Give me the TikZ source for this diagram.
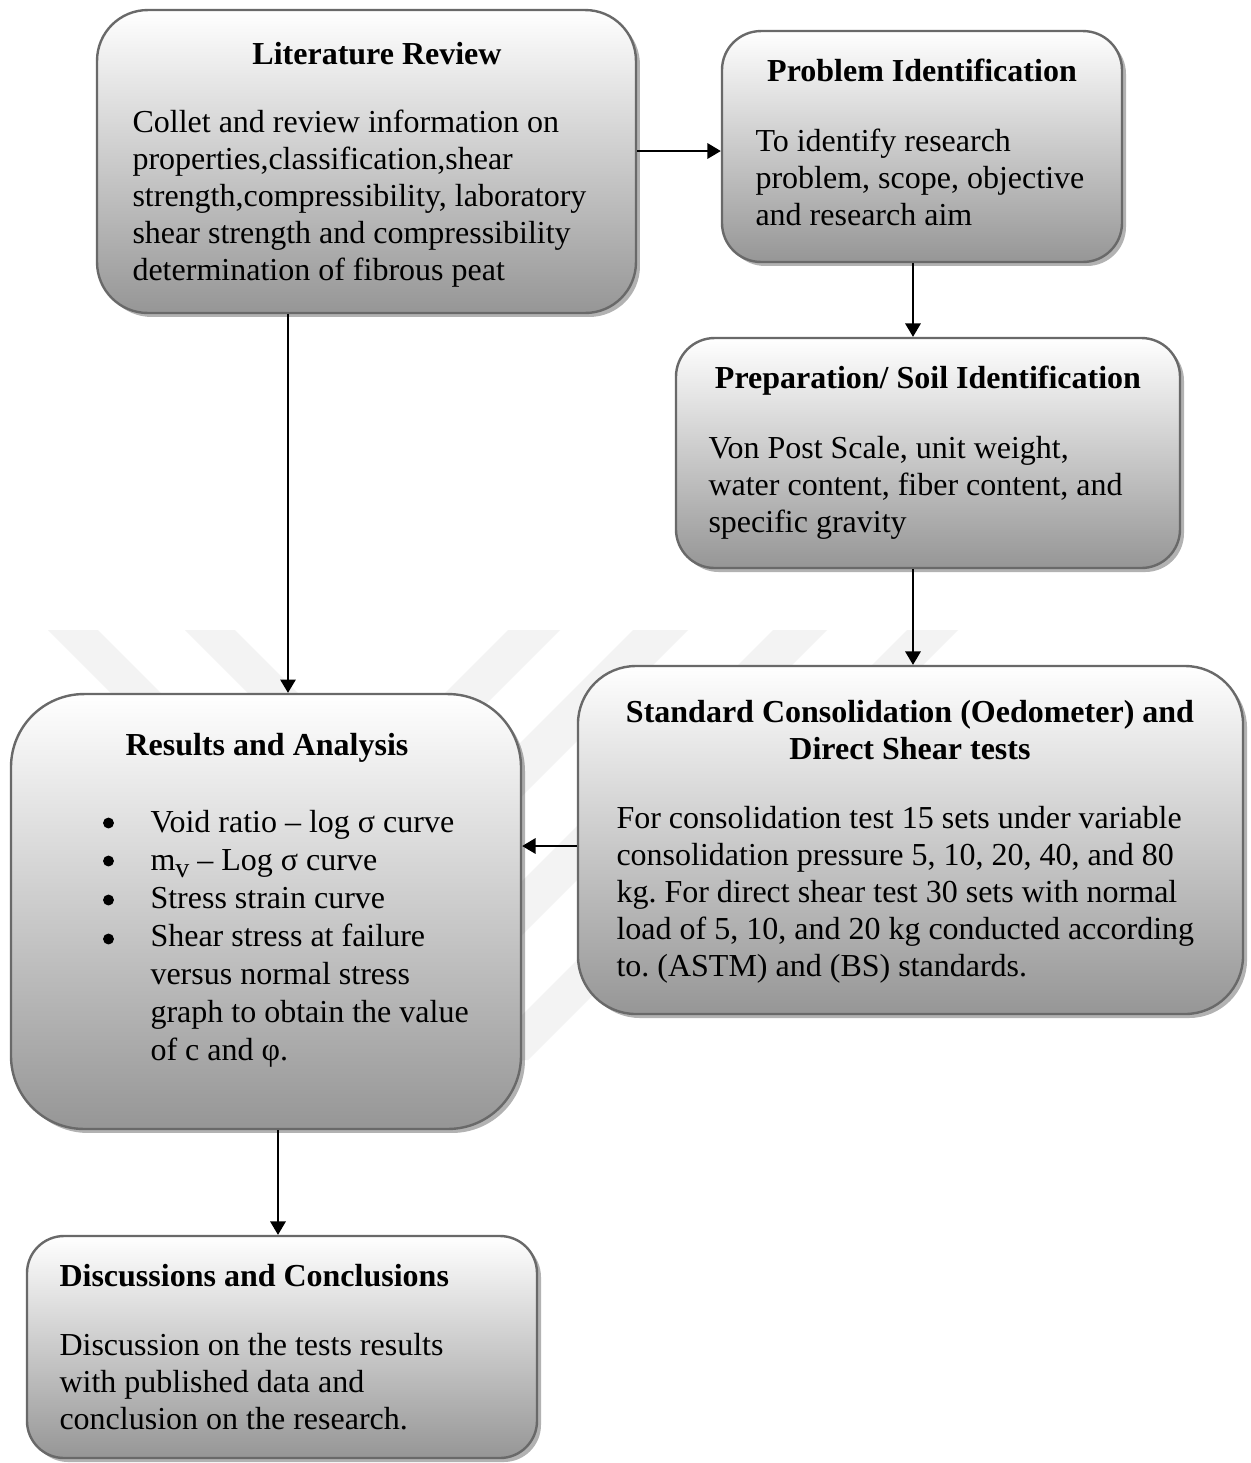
\documentclass[tikz,border=0pt]{standalone}
\usepackage{fontspec}
\setmainfont{Liberation Serif}
\usetikzlibrary{arrows.meta,shadows,calc}
\definecolor{boxbot}{RGB}{150,150,150}
\definecolor{boxline}{RGB}{105,105,105}
\definecolor{wm}{RGB}{243,243,243}
\newcommand{\mylines}[1]{\begin{tabular}[t]{@{}l@{}}#1\end{tabular}}
\newcommand{\mycenter}[1]{\begin{tabular}[t]{@{}c@{}}#1\end{tabular}}
\frenchspacing
\begin{document}
\frenchspacing
\begin{tikzpicture}[x=0.375pt,y=-0.375pt,
  box/.style={draw=boxline, line width=0.9pt, top color=white, bottom color=boxbot,
    drop shadow={shadow xshift=1.5pt, shadow yshift=-1.5pt, fill=black, opacity=0.3}, inner sep=0pt},
  ttl/.style={font=\fontsize{12}{13.875}\selectfont\bfseries, inner sep=0pt, anchor=base},
  txt/.style={font=\fontsize{12}{13.875}\selectfont\frenchspacing, inner sep=0pt, anchor=base west},
  arr/.style={line width=0.6pt, -{Triangle[length=5pt,width=5.8pt]}},
  stripe/.style={fill=wm}]
\useasboundingbox (0,0) rectangle (1251,1463);
\fill[white] (0,0) rectangle (1251,1463);
% watermark
\fill[stripe] (48,630) -- (98,630) -- (260,792) -- (210,792) -- cycle;
\fill[stripe] (185,630) -- (235,630) -- (397,792) -- (347,792) -- cycle;
\fill[stripe] (508,630) -- (560,630) -- (130,1060) -- (78,1060) -- cycle;
\fill[stripe] (633,630) -- (688,630) -- (258,1060) -- (203,1060) -- cycle;
\fill[stripe] (773,630) -- (827,630) -- (397,1060) -- (343,1060) -- cycle;
\fill[stripe] (907,630) -- (958,630) -- (528,1060) -- (477,1060) -- cycle;
% boxes
\node[box, rounded corners=19pt, minimum width=202.1pt, minimum height=113.6pt] (lit) at (366.5,161.5) {};
\node[box, rounded corners=14.6pt, minimum width=150pt, minimum height=86.6pt] (prob) at (922,146.5) {};
\node[box, rounded corners=14.5pt, minimum width=189pt, minimum height=86.25pt] (prep) at (928,453) {};
\node[box, rounded corners=21.75pt, minimum width=249.4pt, minimum height=130.5pt] (std) at (910.5,840) {};
\node[box, rounded corners=27.4pt, minimum width=191.25pt, minimum height=163.1pt] (res) at (266,911.5) {};
\node[box, rounded corners=13.9pt, minimum width=191.25pt, minimum height=83.25pt] (disc) at (282,1347) {};
% texts
\node[ttl] (litT) at (377,64) {Literature Review};
\node[txt] (litB) at (132,132) {\mylines{Collet and review information on\\properties,classification,shear\\strength,compressibility, laboratory\\shear strength and compressibility\\determination of fibrous peat}};
\node[ttl] (probT) at (922,81) {Problem Identification};
\node[txt] (probB) at (755,151) {\mylines{To identify research\\problem, scope, objective\\and research aim}};
\node[ttl] (prepT) at (928,388) {Preparation/ Soil Identification};
\node[txt] (prepB) at (708,458) {\mylines{Von Post Scale, unit weight,\\water content, fiber content, and\\specific gravity}};
\node[ttl] (stdT) at (910,722) {\mycenter{Standard Consolidation (Oedometer) and\\Direct Shear tests}};
\node[txt] (stdB) at (616,828) {\mylines{For consolidation test 15 sets under variable\\consolidation pressure 5, 10, 20, 40, and 80\\kg. For direct shear test 30 sets with normal\\load of 5, 10, and 20 kg conducted according\\to. (ASTM) and (BS) standards.}};
\node[ttl] (resT) at (267,755) {Results and Analysis};
\node[txt, font=\fontsize{12}{14.3}\selectfont] (resB) at (150,832) {\mylines{Void ratio -- log σ curve\\m\raisebox{-2.8pt}{\fontsize{10.5}{10.5}\selectfont v} -- Log σ curve\\Stress strain curve\\Shear stress at failure\\versus normal stress\\graph to obtain the value\\of c and φ.}};
\foreach \yy in {823,861,900,939} \fill (108.5,\yy) circle (2.05pt);
\node[ttl, anchor=base west] (discT) at (59,1286) {Discussions and Conclusions};
\node[txt] (discB) at (59,1355) {\mylines{Discussion on the tests results\\with published data and\\conclusion on the research.}};
% connectors
\coordinate (ya) at (0,151);
\coordinate (xb) at (913,0);
\coordinate (xc) at (288,0);
\coordinate (yd) at (0,846);
\coordinate (xe) at (278,0);
\draw[arr] (lit.east |- ya) -- (prob.west |- ya);
\draw[arr] (prob.south -| xb) -- (prep.north -| xb);
\draw[arr] (prep.south -| xb) -- (std.north -| xb);
\draw[arr] (lit.south -| xc) -- (res.north -| xc);
\draw[arr] (std.west |- yd) -- (res.east |- yd);
\draw[arr] (res.south -| xe) -- (disc.north -| xe);
\end{tikzpicture}
\end{document}
